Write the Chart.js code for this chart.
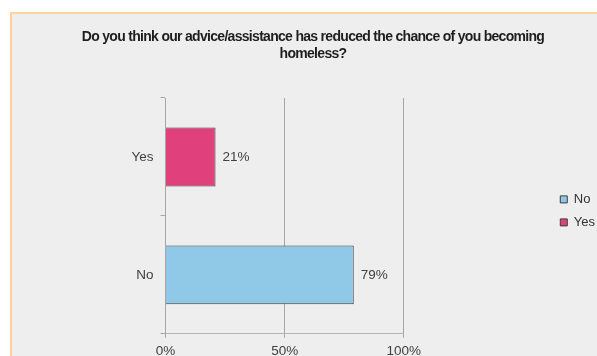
<!DOCTYPE html>
<html>
<head>
<meta charset="utf-8">
<script src="https://cdn.jsdelivr.net/npm/chart.js@4.4.1/dist/chart.umd.min.js"></script>
<style>
  html, body { margin: 0; padding: 0; background: #ffffff; overflow: hidden; }
  body { width: 597px; height: 356px; position: relative; }
  #panel {
    position: absolute; left: 10px; top: 12px;
    width: 587px; height: 352px;
    background: #eeeeee;
    border-top: 2px solid #fad498;
    border-left: 2px solid #fad498;
    box-sizing: border-box;
  }
  #chartBox { position: absolute; left: 0; top: 0; width: 590px; height: 350px; }
</style>
</head>
<body>
<div id="panel"><div id="chartBox"><canvas id="surveyChart"></canvas></div></div>
<script>
// Survey answers
const questionLines = ['Do you think our advice/assistance has reduced the chance of you becoming', 'homeless?'];
const answers = ['Yes', 'No'];
const noValues = [null, 79];
const yesValues = [21, null];
const percentTicks = [0, 50, 100];

const axisGrey = '#a6a6a6';
const textGrey = '#404040';
const fontFamily = '"Liberation Sans", Arial, sans-serif';

// question heading, set tight like the survey export
const questionTitle = {
    id: 'questionTitle',
    afterDraw(chart) {
        const ctx = chart.ctx;
        ctx.save();
        ctx.font = 'bold 14px ' + fontFamily;
        ctx.letterSpacing = '-0.7px';
        ctx.fillStyle = '#1e1e1e';
        ctx.textAlign = 'center';
        ctx.textBaseline = 'alphabetic';
        const cx = chart.width / 2 + 6;
        questionLines.forEach((line, i) => ctx.fillText(line, cx, 27 + i * 16.5));
        ctx.restore();
    }
};

// legend sits a little higher and further right than the layout puts it
const legendNudge = {
    id: 'legendNudge',
    afterLayout(chart) {
        const lg = chart.legend;
        lg.left += 3; lg.right += 3;
        lg.top -= 5; lg.bottom -= 5;
    }
};

// writes "NN%" just past the end of each bar
const valueLabels = {
    id: 'valueLabels',
    afterDatasetsDraw(chart) {
        const ctx = chart.ctx;
        ctx.save();
        ctx.font = '13.5px ' + fontFamily;
        ctx.fillStyle = textGrey;
        ctx.textBaseline = 'middle';
        ctx.textAlign = 'left';
        chart.data.datasets.forEach((ds, i) => {
            chart.getDatasetMeta(i).data.forEach((bar, j) => {
                const v = ds.data[j];
                if (v == null) return;
                ctx.fillText(v + '%', bar.x + 7, bar.y);
            });
        });
        ctx.restore();
    }
};

new Chart(document.getElementById('surveyChart'), {
    type: 'bar',
    data: {
        labels: answers,
        datasets: [
            {
                label: 'No',
                data: noValues,
                backgroundColor: '#90c9e8',
                borderColor: '#3c3c3c',
                borderWidth: 1,
                grouped: false,
                barPercentage: 0.5,
                categoryPercentage: 1
            },
            {
                label: 'Yes',
                data: yesValues,
                backgroundColor: '#e0407b',
                borderColor: '#3c3c3c',
                borderWidth: 1,
                grouped: false,
                barPercentage: 0.5,
                categoryPercentage: 1
            }
        ]
    },
    options: {
        indexAxis: 'y',
        responsive: true,
        maintainAspectRatio: false,
        animation: false,
        layout: { padding: { left: 0, right: 0, top: 84, bottom: 0 } },
        plugins: {
            title: { display: false },
            legend: {
                position: 'right',
                fullSize: false,
                labels: {
                    boxWidth: 7,
                    boxHeight: 7,
                    padding: 10,
                    color: '#333333',
                    font: { family: fontFamily, size: 13 }
                }
            },
            tooltip: { enabled: false }
        },
        scales: {
            x: {
                min: 0,
                max: 100,
                afterBuildTicks(scale) {
                    scale.ticks = percentTicks.map(v => ({ value: v }));
                },
                grid: { color: axisGrey, tickLength: 4 },
                border: { display: true, color: '#b4b4b4' },
                ticks: {
                    color: textGrey,
                    padding: 5,
                    font: { family: fontFamily, size: 13.5 },
                    callback: v => v + '%'
                }
            },
            y: {
                grid: { drawOnChartArea: false, color: axisGrey, tickLength: 5, offset: true },
                border: { display: true, color: axisGrey },
                ticks: {
                    color: textGrey,
                    padding: 7,
                    font: { family: fontFamily, size: 13.5 }
                },
                afterFit(scale) { scale.width = 153.5; }
            },
            gap: {
                type: 'linear',
                position: 'right',
                display: true,
                grid: { display: false },
                border: { display: false },
                ticks: { display: false },
                afterFit(scale) { scale.width = 143.5; }
            }
        }
    },
    plugins: [legendNudge, valueLabels, questionTitle]
});
</script>
</body>
</html>
